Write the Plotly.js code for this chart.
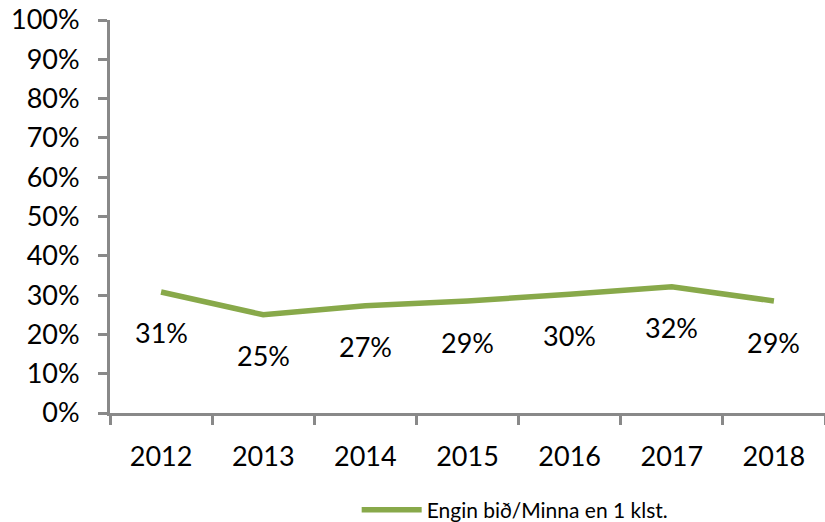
<!DOCTYPE html>
<html>
<head>
<meta charset="utf-8">
<script src="https://cdn.plot.ly/plotly-3.0.1.min.js"></script>
<style>html,body{margin:0;padding:0;background:#fff}#chart{width:825px;height:522px}</style>
</head>
<body>
<div id="chart"></div>
<script>
const years = ["2012", "2013", "2014", "2015", "2016", "2017", "2018"];
const shares = [0.308, 0.250, 0.273, 0.285, 0.302, 0.321, 0.285];
const labels = ["31%", "25%", "27%", "29%", "30%", "32%", "29%"];
const seriesName = "Engin bið/Minna en 1 klst.";
const yTicks = [0, 0.1, 0.2, 0.3, 0.4, 0.5, 0.6, 0.7, 0.8, 0.9, 1.0];
const yTickText = ["0%", "10%", "20%", "30%", "40%", "50%", "60%", "70%", "80%", "90%", "100%"];

const FONT = "Lato, 'Open Sans', sans-serif";
const green = "#88a94a";
const axisGray = "#898989";

const trace = {
  x: years, y: shares, type: "scatter", mode: "lines", name: seriesName,
  line: {color: green, width: 5.5},
  hoverinfo: "skip"
};

const annotations = years.map((yr, i) => ({
  x: i, y: shares[i], xref: "x", yref: "y",
  text: labels[i], showarrow: false, yshift: -41,
  font: {family: FONT, size: 27, color: "#000"}
}));

const layout = {
  width: 825, height: 522,
  margin: {l: 110, r: 0, t: 20, b: 109, autoexpand: false},
  paper_bgcolor: "#fff", plot_bgcolor: "#fff",
  font: {family: FONT, color: "#000"},
  showlegend: true,
  legend: {
    orientation: "h", x: 0.345, xanchor: "left",
    yref: "container", y: 0.023, yanchor: "middle",
    font: {family: FONT, size: 21, color: "#000"},
    itemwidth: 60, bgcolor: "rgba(0,0,0,0)"
  },
  xaxis: {
    type: "category", range: [-0.5, 6.5], fixedrange: true,
    showline: true, linecolor: axisGray, linewidth: 3,
    ticks: "outside", ticklen: 9, tickwidth: 3, tickcolor: axisGray,
    tickson: "boundaries", showgrid: false, zeroline: false,
    ticklabelstandoff: 18,
    tickfont: {family: FONT, size: 27, color: "#000"}
  },
  yaxis: {
    range: [0, 1], fixedrange: true,
    tickvals: yTicks, ticktext: yTickText,
    showline: true, linecolor: axisGray, linewidth: 3,
    ticks: "outside", ticklen: 9, tickwidth: 3, tickcolor: axisGray,
    showgrid: false, zeroline: false,
    ticklabelstandoff: 13,
    tickfont: {family: FONT, size: 27, color: "#000"}
  },
  annotations: annotations
};

Plotly.newPlot("chart", [trace], layout, {displayModeBar: false, staticPlot: true});
</script>
</body>
</html>
